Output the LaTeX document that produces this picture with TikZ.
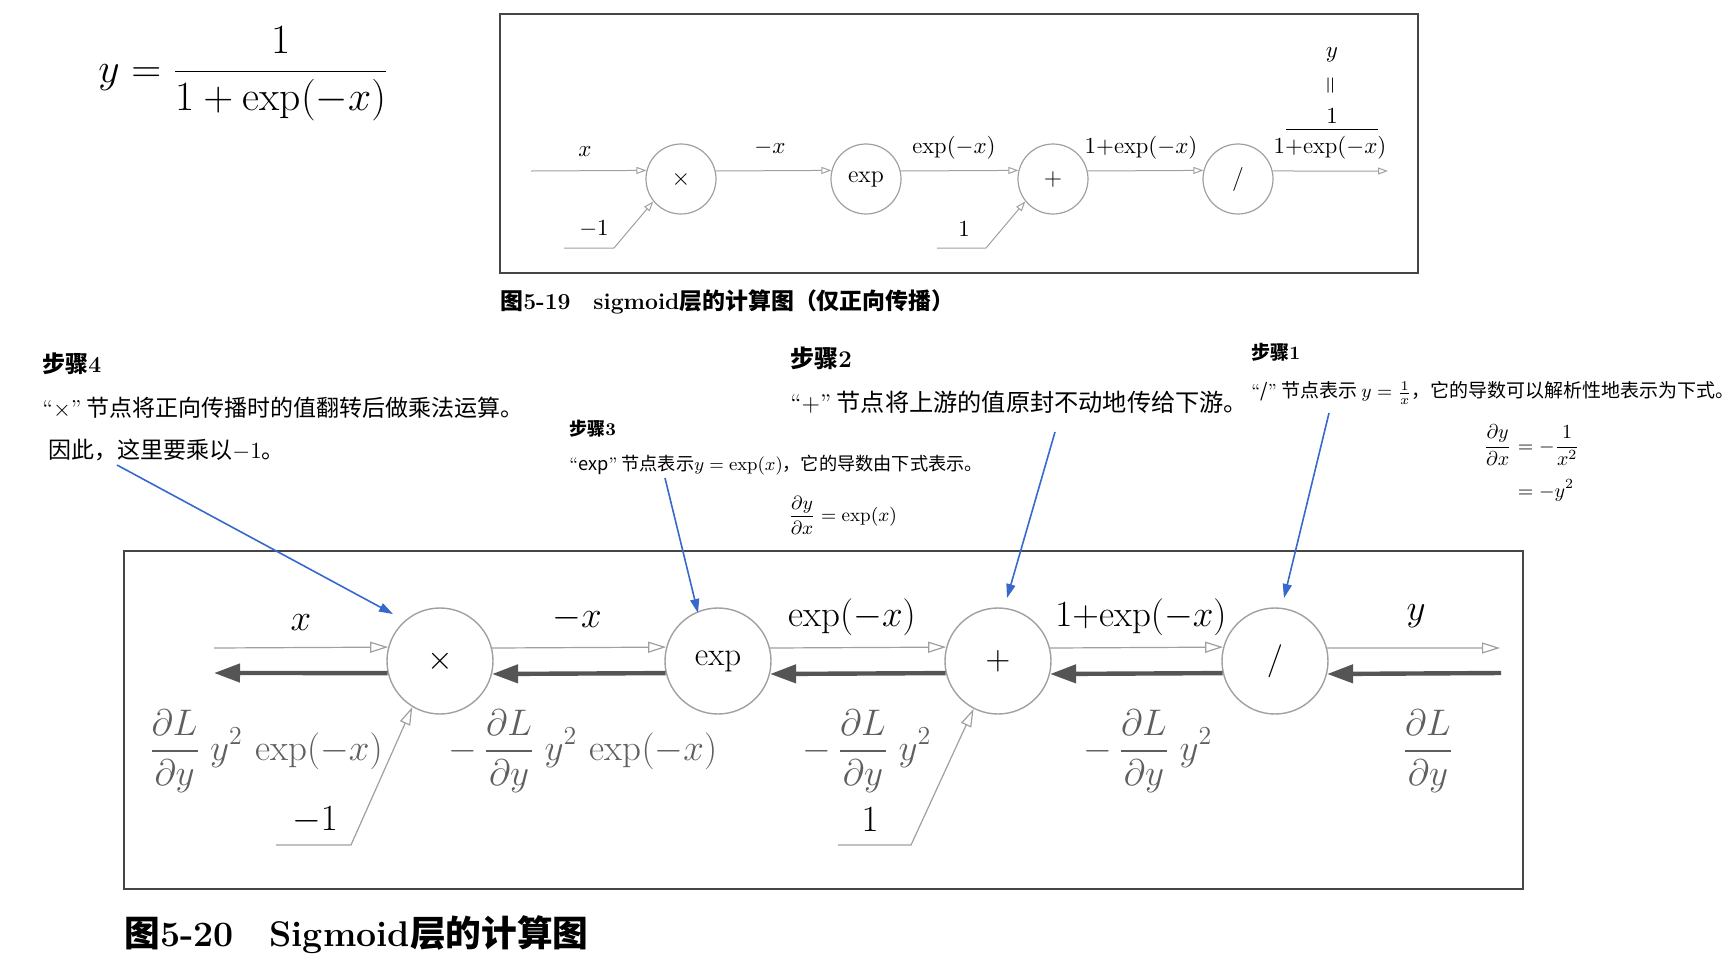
\RequirePackage{fix-cm}
\documentclass[tikz,border=0pt]{standalone}
\usepackage{amsmath}
\usepackage{fontspec}
\newfontfamily\cjk{Noto Sans CJK SC}
\usetikzlibrary{arrows.meta}
\definecolor{lg}{RGB}{160,160,160}
\definecolor{dg}{RGB}{85,85,85}
\definecolor{bl}{RGB}{55,105,205}
\definecolor{tg}{RGB}{95,95,95}
\definecolor{bx}{RGB}{70,70,70}
\newcommand{\oq}{{\rmfamily “}}
\newcommand{\cq}{{\rmfamily ”}}
\newcommand{\ex}{\mathrm{exp}}
\begin{document}
\begin{tikzpicture}[x=0.5pt,y=-0.5pt,
  tn/.style={circle, draw=lg, line width=0.6pt, minimum size=35pt, inner sep=0pt, font=\fontsize{12}{14}\selectfont},
  bn/.style={circle, draw=lg, line width=0.7pt, minimum size=53pt, inner sep=0pt, font=\fontsize{16.5}{19}\selectfont},
  sm/.style={inner sep=0pt, font=\fontsize{11.5}{14}\selectfont},
  big/.style={inner sep=0pt, font=\fontsize{18.5}{22}\selectfont},
  tfw/.style={draw=lg, line width=0.5pt, -{Triangle[open, length=5pt, width=3.5pt]}},
  fw/.style={draw=lg, line width=0.6pt, -{Triangle[open, length=9pt, width=5.5pt]}},
  bw/.style={draw=dg, line width=2.2pt, -{Triangle[length=13pt, width=9pt]}},
  blu/.style={draw=bl, line width=0.8pt, -{Triangle[length=7pt, width=4.5pt]}},
  zh/.style={inner sep=0pt, anchor=west},
  bxs/.style={draw=bx, line width=0.8pt}
]
\useasboundingbox (0,0) rectangle (1736,970);

% top equation
\node[anchor=west, inner sep=0pt, font=\fontsize{20.8}{24}\selectfont] (eq) at (98,74) {$\displaystyle y=\frac{1}{1+\exp(-x)}$};

% ===== top diagram =====
\draw[bxs] (500,14) rectangle (1418,273);
\node[tn] (a1) at (681,179) {$\times$};
\node[tn] (a2) at (866,179) {exp};
\node[tn] (a3) at (1053,179) {$+$};
\node[tn] (a4) at (1238,179) {$/$};
\coordinate (a0) at (531,171);
\coordinate (a5) at (1388,171);
\draw[tfw] (a0) -- (a1.166.8);
\draw[tfw] (a1.13.2) -- (a2.166.8);
\draw[tfw] (a2.13.2) -- (a3.166.8);
\draw[tfw] (a3.13.2) -- (a4.166.8);
\draw[tfw] (a4.13.2) -- (a5);
\coordinate (m1s) at (564,248);
\coordinate (m1c) at (614,248);
\draw[tfw] (m1s) -- (m1c) -- (a1.219.8);
\coordinate (o1s) at (937,248);
\coordinate (o1c) at (986,248);
\draw[tfw] (o1s) -- (o1c) -- (a3.219.8);
\node[sm] (tl0) at (585,152) {$x$};
\node[sm] (tl1) at (770,148) {$-x$};
\node[sm] (tl2) at (954,148) {$\exp(-x)$};
\node[sm] (tl3) at (1141,148) {$1{+}\ex(-x)$};
\node[sm] (tl4) at (1330,148) {$1{+}\ex(-x)$};
\node[sm] (tl5) at (1332,116) {$1$};
\coordinate (bar1) at (1286,129);
\coordinate (bar2) at (1378,129);
\draw[line width=0.5pt] (bar1) -- (bar2);
\node[sm, rotate=90] (teq) at (1332,86) {$=$};
\node[sm] (ty) at (1332,55) {$y$};
\node[sm] (tm1) at (594,229) {$-1$};
\node[sm] (to1) at (964,229) {$1$};

\node[zh, font=\cjk\bfseries\fontsize{11.45}{13}\selectfont] (cap1) at (500,302) {图{\rmfamily\bfseries 5-19}\hspace{1em}{\rmfamily\bfseries sigmoid}层的计算图（仅正向传播）};

% ===== bottom diagram =====
\draw[bxs, line width=1pt] (124,551) rectangle (1523,889);
\node[bn] (b1) at (440,661) {$\times$};
\node[bn] (b2) at (718,661) {exp};
\node[bn] (b3) at (998,661) {$+$};
\node[bn] (b4) at (1275,661) {$/$};
\coordinate (f0) at (214,648);
\coordinate (f5) at (1500,648);
\coordinate (k0) at (214,673);
\coordinate (k5) at (1501,673);
\draw[fw] (f0) -- (b1.165.8);
\draw[fw] (b1.14.2) -- (b2.165.8);
\draw[fw] (b2.14.2) -- (b3.165.8);
\draw[fw] (b3.14.2) -- (b4.165.8);
\draw[fw] (b4.14.2) -- (f5);
\draw[bw] (k5) -- (b4.346.9);
\draw[bw] (b4.193.1) -- (b3.346.9);
\draw[bw] (b3.193.1) -- (b2.346.9);
\draw[bw] (b2.193.1) -- (b1.346.9);
\draw[bw] (b1.193.1) -- (k0);

\coordinate (n1s) at (276,845);
\coordinate (n1c) at (351,845);
\draw[fw] (n1s) -- (n1c) -- (b1.239.4);
\coordinate (p1s) at (838,845);
\coordinate (p1c) at (911,845);
\draw[fw] (p1s) -- (p1c) -- (b3.243);

\node[big] (bl0) at (301,623) {$x$};
\node[big] (bl1) at (577,618) {$-x$};
\node[big] (bl2) at (852,617) {$\exp(-x)$};
\node[big] (bl3) at (1141,617) {$1{+}\ex(-x)$};
\node[big] (bl4) at (1416,616) {$y$};

\node[big, text=tg] (g0) at (266,751) {$\displaystyle\frac{\partial L}{\partial y}\;y^2\,\exp(-x)$};
\node[big, text=tg] (g1) at (583,751) {$\displaystyle-\,\frac{\partial L}{\partial y}\;y^2\,\exp(-x)$};
\node[big, text=tg] (g2) at (867,751) {$\displaystyle-\,\frac{\partial L}{\partial y}\;y^2$};
\node[big, text=tg] (g3) at (1148,751) {$\displaystyle-\,\frac{\partial L}{\partial y}\;y^2$};
\node[big, text=tg] (g4) at (1428,751) {$\displaystyle\frac{\partial L}{\partial y}$};
\node[big] (bm1) at (315,820) {$-1$};
\node[big] (bo1) at (870,820) {$1$};

\node[zh, font=\cjk\bfseries\fontsize{17.85}{20}\selectfont] (cap2) at (124,935) {图{\rmfamily\bfseries 5-20}\hspace{1em}{\rmfamily\bfseries Sigmoid}层的计算图};

% ===== annotations =====
% step 4
\node[zh, font=\cjk\bfseries\fontsize{11.5}{13}\selectfont] (s4h) at (42,364) {步骤{\rmfamily\bfseries 4}};
\node[zh, font=\cjk\fontsize{11.5}{13}\selectfont] (s4a) at (42,408) {\oq$\times$\cq\ 节点将正向传播时的值翻转后做乘法运算。};
\node[zh, font=\cjk\fontsize{11.5}{13}\selectfont] (s4b) at (48,450) {因此，这里要乘以$-1$。};
\coordinate (s4p) at (117,465);
\coordinate (s4t) at (393,614);
\draw[blu] (s4p) -- (s4t);

% step 3
\node[zh, font=\cjk\bfseries\fontsize{9}{11}\selectfont] (s3h) at (569,429) {步骤{\rmfamily\bfseries 3}};
\node[zh, font=\cjk\fontsize{9.1}{11}\selectfont] (s3a) at (569,465) {\oq exp\cq\ 节点表示$y=\exp(x)$，它的导数由下式表示。};
\node[zh, font=\fontsize{9.5}{11}\selectfont] (s3f) at (788,515) {$\displaystyle\frac{\partial y}{\partial x}=\exp(x)$};
\coordinate (s3p) at (665,478);
\coordinate (s3t) at (698,613);
\draw[blu] (s3p) -- (s3t);

% step 2
\node[zh, font=\cjk\bfseries\fontsize{12}{13}\selectfont] (s2h) at (790,358) {步骤{\rmfamily\bfseries 2}};
\node[zh, font=\cjk\fontsize{12.1}{13}\selectfont] (s2a) at (790,402) {\oq$+$\cq\ 节点将上游的值原封不动地传给下游。};
\coordinate (s2p) at (1055,432);
\coordinate (s2t) at (1007,598);
\draw[blu] (s2p) -- (s2t);

% step 1
\node[zh, font=\cjk\bfseries\fontsize{9.5}{11}\selectfont] (s1h) at (1251,352) {步骤{\rmfamily\bfseries 1}};
\node[zh, font=\cjk\fontsize{9.5}{11}\selectfont] (s1a) at (1251,393) {\oq/\cq\ 节点表示 $y=\frac{1}{x}$，它的导数可以解析性地表示为下式。};
\node[anchor=base east, inner sep=0pt, font=\fontsize{10}{12}\selectfont] (s1f1) at (1512,452) {$\displaystyle\frac{\partial y}{\partial x}$};
\node[anchor=base west, inner sep=0pt, font=\fontsize{10}{12}\selectfont] (s1f2) at (1512,452) {$\displaystyle{}=-\frac{1}{x^2}$};
\node[anchor=base west, inner sep=0pt, font=\fontsize{10}{12}\selectfont] (s1f3) at (1512,497) {$\displaystyle{}=-y^2$};
\coordinate (s1p) at (1329,413);
\coordinate (s1t) at (1284,598);
\draw[blu] (s1p) -- (s1t);
\end{tikzpicture}
\end{document}
